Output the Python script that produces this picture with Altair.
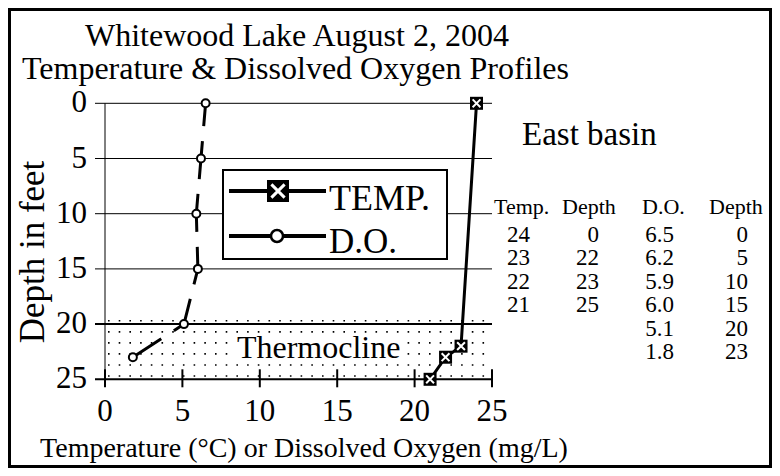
import altair as alt
import pandas as pd

# ---------------- data ----------------
temp_c = [24, 23, 22, 21]
temp_depth = [0, 22, 23, 25]
do_mgl = [6.5, 6.2, 5.9, 6.0, 5.1, 1.8]
do_depth = [0, 5, 10, 15, 20, 23]
depth_ticks = [0, 5, 10, 15, 20, 25]
x_ticks = [0, 5, 10, 15, 20, 25]
table_header = ["Temp.", "Depth", "D.O.", "Depth"]
thermo_top, thermo_bottom = 20, 25

FONT = "Liberation Serif"
W, H = 387, 276
OX, OY = 105, 103.3  # page position of the plot origin
KX, KY = W / 25, H / 25  # pixels per data unit


def px(v):
    return v - OX


def py(v):
    return v - OY


def dx(v):  # page x -> data units
    return (v - OX) / KX


def dy(v):  # page y -> depth units
    return (v - OY) / KY


xs = alt.Scale(domain=[0, 25], nice=False, zero=False)
ys = alt.Scale(domain=[0, 25], reverse=True, nice=False, zero=False)

temp_df = pd.DataFrame({"t": temp_c, "depth": temp_depth})
do_df = pd.DataFrame({"o": do_mgl, "depth": do_depth})

# ---- scale carrier (invisible) ----
base = alt.Chart(do_df).mark_point(opacity=0).encode(
    x=alt.X("o:Q", scale=xs, axis=None),
    y=alt.Y("depth:Q", scale=ys, axis=None),
)

# ---- axes drawn through the scales ----
ydf = pd.DataFrame({"d": depth_ticks})
grid = alt.Chart(ydf).mark_rule(color="black").encode(
    y=alt.Y("d:Q", axis=None), x=alt.value(-10), x2=alt.value(W),
    strokeWidth=alt.condition(f"datum.d >= {thermo_top}", alt.value(2), alt.value(1)),
)
ydomain = alt.Chart(pd.DataFrame({"a": [0]})).mark_rule(color="black", strokeWidth=1).encode(
    x=alt.value(0), y=alt.value(0), y2=alt.value(H)
)
ylabels = alt.Chart(ydf).mark_text(
    font=FONT, fontSize=31, align="right", baseline="middle", color="black"
).encode(y=alt.Y("d:Q", axis=None), x=alt.value(px(87)), text="d:N")

xdf = pd.DataFrame({"v": x_ticks})
xticks = alt.Chart(xdf).mark_rule(color="black", strokeWidth=2).encode(
    x=alt.X("v:Q", axis=None), y=alt.value(H - 10), y2=alt.value(H + 8)
)
xlabels = alt.Chart(xdf).mark_text(
    font=FONT, fontSize=31, align="center", baseline="alphabetic", color="black"
).encode(x=alt.X("v:Q", axis=None), y=alt.value(py(420.5)), text="v:N")

ytitle = alt.Chart(pd.DataFrame({"t": ["Depth in feet"]})).mark_text(
    font=FONT, fontSize=35, angle=270, align="center", baseline="alphabetic", color="black"
).encode(x=alt.value(px(44)), y=alt.value(py(252)), text="t:N")
xtitle = alt.Chart(pd.DataFrame({"t": ["Temperature (°C) or Dissolved Oxygen (mg/L)"]})).mark_text(
    font=FONT, fontSize=28, align="center", baseline="alphabetic", color="black"
).encode(x=alt.value(px(304)), y=alt.value(py(456.5)), text="t:N")

# ---- thermocline dotted band ----
dot_rows = pd.DataFrame({"d": [thermo_top - 0.3 + i for i in range(6)]})
dots = alt.Chart(dot_rows).mark_rule(
    color="black", strokeWidth=1.6, strokeDash=[1.6, 9.1], strokeCap="butt"
).encode(
    y=alt.Y("d:Q", axis=None),
    x=alt.value(3), x2=alt.value(W - 1),
)
band_df = pd.DataFrame({"x1": [8.2], "x2": [19.4], "y1": [21.1], "y2": [23.4]})
thermo_bg = alt.Chart(band_df).mark_rect(color="white").encode(
    x=alt.X("x1:Q", axis=None), x2="x2:Q",
    y=alt.Y("y1:Q", axis=None), y2="y2:Q",
)
thermo_txt = alt.Chart(pd.DataFrame({"t": ["Thermocline"], "x": [13.8], "y": [22.2]})).mark_text(
    font=FONT, fontSize=32, color="black", baseline="middle", align="center"
).encode(
    x=alt.X("x:Q", axis=None), y=alt.Y("y:Q", axis=None), text="t:N"
)

# ---- D.O. profile ----
do_line = alt.Chart(do_df).mark_line(
    color="black", strokeWidth=3, strokeDash=[38, 15], strokeDashOffset=15
).encode(
    x=alt.X("o:Q", axis=None),
    y=alt.Y("depth:Q", axis=None),
    order=alt.Order("depth:Q"),
)
do_pts = alt.Chart(do_df).mark_point(
    shape="circle", size=64, filled=True, fill="white", stroke="black", strokeWidth=2, opacity=1
).encode(
    x=alt.X("o:Q", axis=None),
    y=alt.Y("depth:Q", axis=None),
)

# ---- temperature profile ----
t_line = alt.Chart(temp_df).mark_line(color="black", strokeWidth=3).encode(
    x=alt.X("t:Q", axis=None),
    y=alt.Y("depth:Q", axis=None),
    order=alt.Order("depth:Q"),
)
t_sq = alt.Chart(temp_df).mark_point(
    shape="square", size=169, filled=True, color="black", opacity=1
).encode(
    x=alt.X("t:Q", axis=None),
    y=alt.Y("depth:Q", axis=None),
)
XPATH = "M-0.6,-0.6L0.6,0.6M0.6,-0.6L-0.6,0.6"
t_x = alt.Chart(temp_df).mark_point(
    shape=XPATH, size=169, filled=False, stroke="white", strokeWidth=2, opacity=1
).encode(
    x=alt.X("t:Q", axis=None),
    y=alt.Y("depth:Q", axis=None),
)

# ---- legend ----
one = pd.DataFrame({"a": [0]})
leg_box = alt.Chart(one).mark_rect(fill="white", stroke="black", strokeWidth=2).encode(
    x=alt.value(px(223)), x2=alt.value(px(447)), y=alt.value(py(170)), y2=alt.value(py(259))
)
leg_l1 = alt.Chart(one).mark_rule(color="black", strokeWidth=4).encode(
    x=alt.value(px(229)), x2=alt.value(px(326)), y=alt.value(py(191))
)
leg_l2 = alt.Chart(one).mark_rule(color="black", strokeWidth=4).encode(
    x=alt.value(px(229)), x2=alt.value(px(326)), y=alt.value(py(236))
)
leg_sq = alt.Chart(one).mark_point(shape="square", size=484, filled=True, color="black", opacity=1).encode(
    x=alt.value(px(278)), y=alt.value(py(191))
)
leg_x = alt.Chart(one).mark_point(shape=XPATH, size=484, filled=False, stroke="white", strokeWidth=3, opacity=1).encode(
    x=alt.value(px(278)), y=alt.value(py(191))
)
leg_c = alt.Chart(one).mark_point(shape="circle", size=144, filled=True, fill="white",
                                  stroke="black", strokeWidth=2.5, opacity=1).encode(
    x=alt.value(px(277)), y=alt.value(py(236))
)
leg_t1 = alt.Chart(pd.DataFrame({"t": ["TEMP."]})).mark_text(
    font=FONT, fontSize=36, align="left", baseline="alphabetic", color="black"
).encode(x=alt.value(px(329)), y=alt.value(py(210)), text="t:N")
leg_t2 = alt.Chart(pd.DataFrame({"t": ["D.O."]})).mark_text(
    font=FONT, fontSize=35, align="left", baseline="alphabetic", color="black"
).encode(x=alt.value(px(329)), y=alt.value(py(253)), text="t:N")


# ---- titles & side text ----
def label(txt, x, y, size, align="left"):
    return alt.Chart(pd.DataFrame({"t": [txt]})).mark_text(
        font=FONT, fontSize=size, align=align, baseline="alphabetic", color="black"
    ).encode(x=alt.value(px(x)), y=alt.value(py(y)), text="t:N")


title1 = label("Whitewood Lake August 2, 2004", 85, 46, 32)
title2 = label("Temperature & Dissolved Oxygen Profiles", 22, 79, 32)
east = label("East basin", 522, 145, 33)

# ---- data table (placed through the same scales, outside the plot) ----
cells = []
for i, (t, d) in enumerate(zip(temp_c, temp_depth)):
    cells.append({"col": 0, "row": i, "txt": f"{t}"})
    cells.append({"col": 1, "row": i, "txt": f"{d}"})
for i, (o, d) in enumerate(zip(do_mgl, do_depth)):
    cells.append({"col": 2, "row": i, "txt": f"{o:.1f}"})
    cells.append({"col": 3, "row": i, "txt": f"{d}"})
cells_df = pd.DataFrame(cells)
col_right = [round(dx(v), 3) for v in (530, 599, 674, 748)]
table = alt.Chart(cells_df).transform_calculate(
    cx=f"{col_right}[datum.col]",
    cy=f"{dy(235):.3f} + datum.row * {23.4 / KY:.4f}",
).mark_text(font=FONT, fontSize=23, align="right", baseline="middle", color="black").encode(
    x=alt.X("cx:Q", axis=None), y=alt.Y("cy:Q", axis=None), text="txt:N"
)
head_df = pd.DataFrame({"txt": table_header, "col": [0, 1, 2, 3]})
head_left = [round(dx(v), 3) for v in (494, 562, 642, 709)]
header = alt.Chart(head_df).transform_calculate(
    cx=f"{head_left}[datum.col]",
    cy=f"{dy(214):.3f}",
).mark_text(font=FONT, fontSize=22, align="left", baseline="alphabetic", color="black").encode(
    x=alt.X("cx:Q", axis=None), y=alt.Y("cy:Q", axis=None), text="txt:N"
)

frame = alt.Chart(one).mark_rect(filled=False, stroke="black", strokeWidth=3).encode(
    x=alt.value(px(9.5)), x2=alt.value(px(770.5)), y=alt.value(py(9.5)), y2=alt.value(py(466.5))
)

chart = alt.layer(
    base, grid, ydomain, ylabels, xticks, xlabels, ytitle, xtitle,
    dots, thermo_bg, thermo_txt, do_line, do_pts, t_line, t_sq, t_x,
    leg_box, leg_l1, leg_l2, leg_sq, leg_x, leg_c, leg_t1, leg_t2,
    title1, title2, east, table, header, frame,
).properties(
    width=W, height=H,
    autosize=alt.AutoSizeParams(type="none"),
    padding={"left": OX - 8, "top": OY - 8, "right": 764 - (OX - 8) - W, "bottom": 460 - (OY - 8) - H},
    background="white",
).configure_view(stroke=None)

chart.save("out.html", embed_options={"renderer": "svg", "actions": False})
